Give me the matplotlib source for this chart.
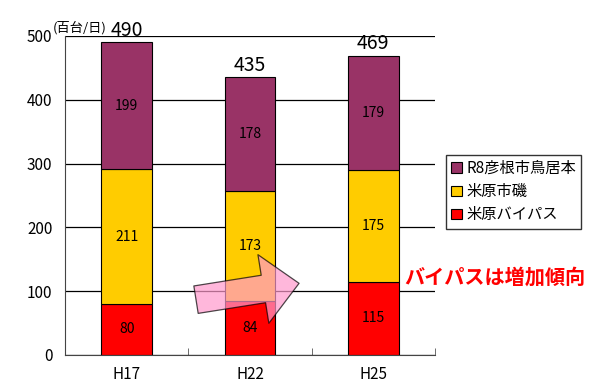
import matplotlib.pyplot as plt
import numpy as np

plt.rcParams['font.family'] = ['Noto Sans CJK JP', 'DejaVu Sans']

years = ['H17', 'H22', 'H25']
bypass = [80, 84, 115]       # 米原バイパス
isogawa = [211, 173, 175]    # 米原市磯
torimoto = [199, 178, 179]   # R8彦根市鳥居本
totals = [490, 435, 469]

fig = plt.figure(figsize=(5.92, 3.85), dpi=100)
ax = fig.add_axes([0.1098, 0.078, 0.625, 0.8285])

x = np.arange(len(years))
w = 0.41
b1 = ax.bar(x, bypass, w, color='#FF0000', edgecolor='black', lw=0.8, label='米原バイパス', zorder=2)
b2 = ax.bar(x, isogawa, w, bottom=bypass, color='#FFCC00', edgecolor='black', lw=0.8, label='米原市磯', zorder=2)
bot3 = np.array(bypass) + np.array(isogawa)
b3 = ax.bar(x, torimoto, w, bottom=bot3, color='#993366', edgecolor='black', lw=0.8, label='R8彦根市鳥居本', zorder=2)

for bars in (b1, b2, b3):
    ax.bar_label(bars, label_type='center', fontsize=10)
for i, t in enumerate(totals):
    ax.text(x[i], t + 2, str(t), ha='center', va='bottom', fontsize=14)

ax.set_xlim(-0.5, 2.5)
ax.set_ylim(0, 500)
ax.set_yticks(range(0, 501, 100))
ax.tick_params(axis='y', length=0, labelsize=11, pad=9)
ax.set_xticks(x)
ax.set_xticklabels(years, fontsize=11)
ax.tick_params(axis='x', length=0, pad=8)
ax.set_xticks([0.5, 1.5, 2.5], minor=True)
ax.tick_params(axis='x', which='minor', direction='in', length=5, color='#555555')
ax.grid(axis='y', color='black', lw=0.9, zorder=0)
ax.set_axisbelow(True)
for s in ['top', 'right']:
    ax.spines[s].set_visible(False)
ax.spines['left'].set_color('#444444')
ax.spines['bottom'].set_color('#444444')

ax.text(-0.6, 503, '(百台/日)', fontsize=9.5, ha='left', va='bottom')

# increase arrow
ax.annotate('', xy=(1.42, 113), xytext=(0.54, 86),
            arrowprops=dict(arrowstyle='simple,head_length=1.3,head_width=2.5,tail_width=1.0',
                            mutation_scale=20, fc='#FF99CC', ec='black', lw=0.9, alpha=0.7),
            zorder=5)
ax.text(2.25, 122, 'バイパスは増加傾向', color='#FF0000', fontsize=14.5, fontweight='bold',
        ha='left', va='center', transform=ax.transData, clip_on=False)

h, l = ax.get_legend_handles_labels()
fig.legend(h[::-1], l[::-1], loc='upper left', bbox_to_anchor=(0.753, 0.598),
           fontsize=11, frameon=True, fancybox=False, edgecolor='black',
           handlelength=0.7, handleheight=0.7, handletextpad=0.3, borderpad=0.35,
           labelspacing=0.4, borderaxespad=0)

fig.savefig('out.png', dpi=100)
